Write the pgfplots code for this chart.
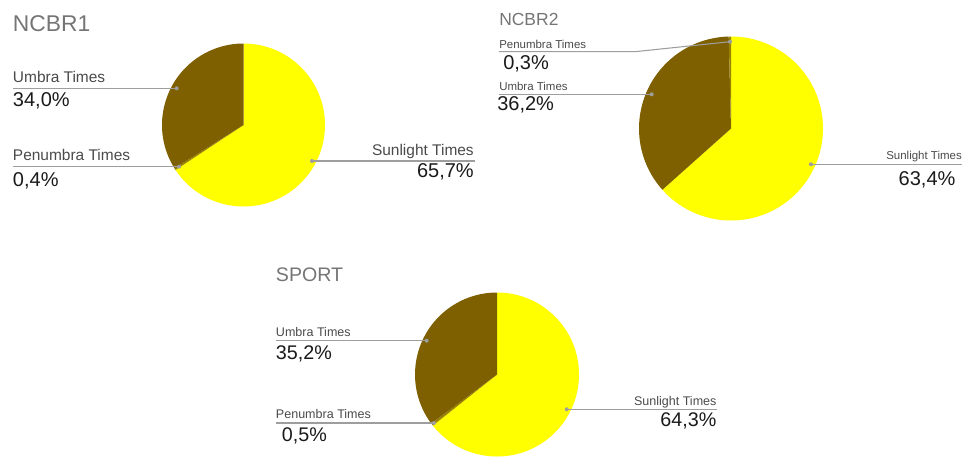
\documentclass[border=0pt]{standalone}
\usepackage{pgfplots}
\usepackage{pgfplotstable}
\pgfplotsset{compat=1.18}
\usepackage{fontspec}
\setmainfont{Liberation Sans}
\definecolor{sunc}{HTML}{FFFF00}
\definecolor{umbc}{HTML}{7F6000}
\definecolor{penc}{HTML}{9A8200}
\definecolor{leader}{HTML}{9E9E9E}
\definecolor{titlec}{HTML}{757575}
\definecolor{labc}{HTML}{4A4A4A}
\definecolor{pctc}{HTML}{1A1A1A}

% shares in percent, clockwise from 12 o'clock
\pgfplotstableread{
chart sun pen umb
NCBR1 65.7 0.4 34.0
NCBR2 63.4 0.3 36.2
SPORT 64.3 0.5 35.2
}\piedata

\newcommand\getval[3]{\pgfplotstablegetelem{#1}{#2}\of\piedata\xdef#3{\pgfplotsretval}}
\getval{0}{sun}\sunA \getval{0}{pen}\penA \getval{0}{umb}\umbA
\getval{1}{sun}\sunB \getval{1}{pen}\penB \getval{1}{umb}\umbB
\getval{2}{sun}\sunC \getval{2}{pen}\penC \getval{2}{umb}\umbC
% NCBR1: sun, pen, umb
\pgfmathsetmacro\aA{90-3.6*\sunA}\pgfmathsetmacro\aB{\aA-3.6*\penA}
% NCBR2: sun, umb, pen
\pgfmathsetmacro\bA{90-3.6*\sunB}\pgfmathsetmacro\bB{\bA-3.6*\umbB}
% SPORT: sun, pen, umb
\pgfmathsetmacro\cA{90-3.6*\sunC}\pgfmathsetmacro\cB{\cA-3.6*\penC}

\newcommand\fs[1]{\fontsize{#1}{#1}\selectfont}
% slice: cx cy r(px) start end colour
\newcommand\slice[6]{\fill[#6] (axis cs:#1,#2) -- ++(#4:#3*0.75pt) arc[start angle=#4,end angle=#5,radius=#3*0.75pt] -- cycle;}
\newcommand\dotat[2]{\fill[leader] (axis cs:#1,#2) circle[radius=1.5pt];}

\begin{document}
\begin{tikzpicture}
\begin{axis}[width=722.25pt,height=342.75pt,scale only axis,
  xmin=0,xmax=963,ymin=0,ymax=457,y dir=reverse,hide axis,clip=false]
\path (axis cs:0,0) rectangle (axis cs:963,457);
% ---------- NCBR1
\slice{243.5}{125}{81.5}{90}{\aA}{sunc}
\slice{243.5}{125}{81.5}{\aA}{\aB}{penc}
\slice{243.5}{125}{81.5}{\aB}{-270}{umbc}
\node[anchor=base west,inner sep=0,text=titlec,font=\fs{17.1pt}] at (axis cs:12.7,31.7) {NCBR1};
\draw[leader,line width=0.8pt] (axis cs:12.7,88.3) -- (axis cs:176.7,88.3);
\dotat{176.7}{88.3}
\node[anchor=base west,inner sep=0,text=labc,font=\fs{11.6pt}] at (axis cs:12.7,82.7) {Umbra Times};
\node[anchor=base west,inner sep=0,text=pctc,font=\fs{15pt}] at (axis cs:12.7,106) {34,0\%};
\draw[leader,line width=0.8pt] (axis cs:12.7,166.7) -- (axis cs:179,166.7);
\dotat{179}{166.7}
\node[anchor=base west,inner sep=0,text=labc,font=\fs{11.6pt}] at (axis cs:12.7,160.5) {Penumbra Times};
\node[anchor=base west,inner sep=0,text=pctc,font=\fs{15pt}] at (axis cs:12.7,186) {0,4\%};
\draw[leader,line width=0.8pt] (axis cs:312,161) -- (axis cs:475,161);
\dotat{312}{161}
\node[anchor=base east,inner sep=0,text=labc,font=\fs{11.6pt}] at (axis cs:474,155) {Sunlight Times};
\node[anchor=base east,inner sep=0,text=pctc,font=\fs{15pt}] at (axis cs:474,177) {65,7\%};
% ---------- NCBR2
\slice{731}{128.5}{92}{90}{\bA}{sunc}
\slice{731}{128.5}{92}{\bA}{\bB}{umbc}
\slice{731}{128.5}{92}{\bB}{-270}{penc}
\node[anchor=base west,inner sep=0,text=titlec,font=\fs{13.1pt}] at (axis cs:499,25.7) {NCBR2};
\draw[leader,line width=0.8pt] (axis cs:499,51.7) -- (axis cs:635,51.7) -- (axis cs:730,41.7);
\dotat{730}{41.7}
\node[anchor=base west,inner sep=0,text=labc,font=\fs{8.6pt}] at (axis cs:499,48) {Penumbra Times};
\node[anchor=base west,inner sep=0,text=pctc,font=\fs{15pt}] at (axis cs:503,69) {0,3\%};
\draw[leader,line width=0.8pt] (axis cs:499,94.3) -- (axis cs:651.7,94.3);
\dotat{651.7}{94.3}
\node[anchor=base west,inner sep=0,text=labc,font=\fs{8.6pt}] at (axis cs:499,90) {Umbra Times};
\node[anchor=base west,inner sep=0,text=pctc,font=\fs{15pt}] at (axis cs:497,110.7) {36,2\%};
\draw[leader,line width=0.8pt] (axis cs:811,164.3) -- (axis cs:962,164.3);
\dotat{811}{164.3}
\node[anchor=base east,inner sep=0,text=labc,font=\fs{8.6pt}] at (axis cs:962,159.3) {Sunlight Times};
\node[anchor=base east,inner sep=0,text=pctc,font=\fs{15pt}] at (axis cs:955.7,185.7) {63,4\%};
% ---------- SPORT
\slice{497}{374.5}{82}{90}{\cA}{sunc}
\slice{497}{374.5}{82}{\cA}{\cB}{penc}
\slice{497}{374.5}{82}{\cB}{-270}{umbc}
\node[anchor=base west,inner sep=0,text=titlec,font=\fs{14.7pt}] at (axis cs:275.7,281.7) {SPORT};
\draw[leader,line width=0.8pt] (axis cs:275.7,340.7) -- (axis cs:426.7,340.7);
\dotat{426.7}{340.7}
\node[anchor=base west,inner sep=0,text=labc,font=\fs{9.4pt}] at (axis cs:275.7,336) {Umbra Times};
\node[anchor=base west,inner sep=0,text=pctc,font=\fs{14.8pt}] at (axis cs:275.7,359) {35,2\%};
\draw[leader,line width=0.8pt] (axis cs:275.7,423) -- (axis cs:434,423);
\dotat{434}{423}
\node[anchor=base west,inner sep=0,text=labc,font=\fs{9.4pt}] at (axis cs:275.7,418.7) {Penumbra Times};
\node[anchor=base west,inner sep=0,text=pctc,font=\fs{14.8pt}] at (axis cs:281.7,441.7) {0,5\%};
\draw[leader,line width=0.8pt] (axis cs:566.7,409.3) -- (axis cs:717,409.3);
\dotat{566.7}{409.3}
\node[anchor=base east,inner sep=0,text=labc,font=\fs{9.4pt}] at (axis cs:716.7,405) {Sunlight Times};
\node[anchor=base east,inner sep=0,text=pctc,font=\fs{14.8pt}] at (axis cs:716.7,426.7) {64,3\%};
\end{axis}
\end{tikzpicture}
\end{document}
